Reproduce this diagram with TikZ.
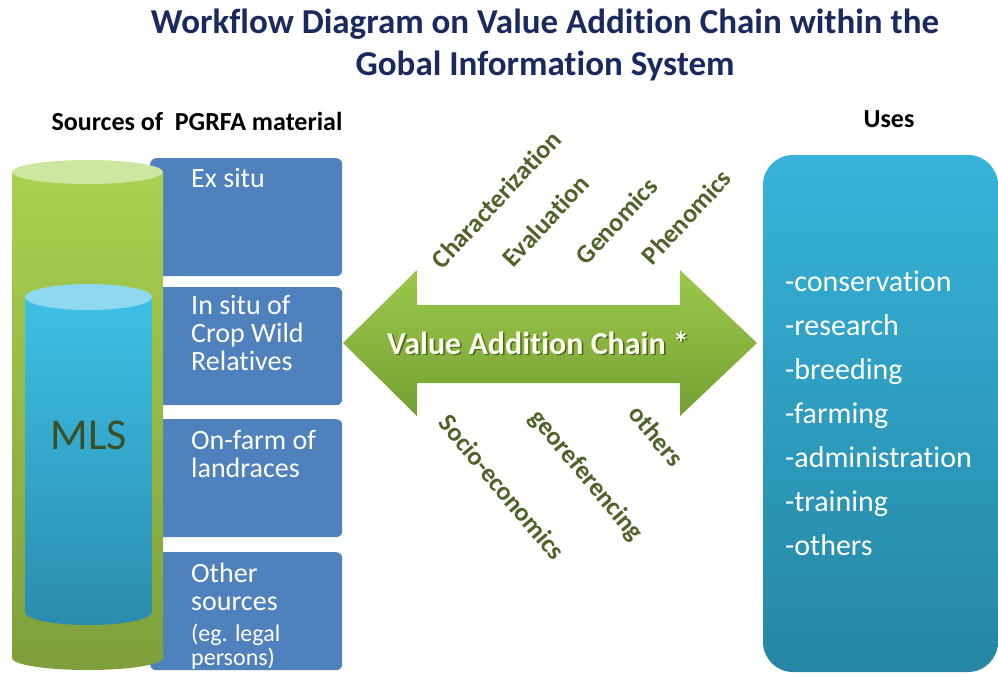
\documentclass[tikz,border=0pt]{standalone}
\usepackage{fontspec}
\setmainfont{Carlito}[Ligatures = NoCommon]
\usetikzlibrary{positioning}
\definecolor{titlenavy}{HTML}{1A2A5E}
\definecolor{srcblue}{HTML}{4F81BD}
\definecolor{cylgreentop}{HTML}{A9D150}
\definecolor{cylgreenbot}{HTML}{7E9F3C}
\definecolor{cylgreenlid}{HTML}{CFE6A0}
\definecolor{mlstop}{HTML}{3EC0E6}
\definecolor{mlsbot}{HTML}{2B8CAD}
\definecolor{mlslid}{HTML}{8ED9F0}
\definecolor{mlstext}{HTML}{3B4F26}
\definecolor{arrowtop}{HTML}{9DC84C}
\definecolor{arrowbot}{HTML}{74A033}
\definecolor{stepgreen}{HTML}{4F6228}
\definecolor{usestop}{HTML}{36B3DA}
\definecolor{usesbot}{HTML}{2686A3}
\tikzset{
  srcbox/.style = {fill = srcblue, rounded corners = 6pt, anchor = north west,
                   minimum width = 192pt, minimum height = 118pt, inner sep = 0pt},
  srctext/.style = {text = white, align = left, anchor = base west, inner sep = 0pt,
                    font = \fontsize{28}{28}\selectfont},
  steplabel/.style = {text = stepgreen, inner sep = 0pt,
                      font = \fontsize{26}{26}\selectfont\bfseries},
  useitem/.style = {text = white, anchor = base west, inner sep = 0pt,
                    font = \fontsize{30}{30}\selectfont},
  heading/.style = {inner sep = 0pt, font = \fontsize{26}{26}\selectfont\bfseries}
}
\begin{document}
\begin{tikzpicture}[x = 1pt, y = -1pt]
    \useasboundingbox (0,0) rectangle (998,675);
    % title
    \begin{scope}[every node/.append style = {text = titlenavy, inner sep = 0pt,
                  font = \fontsize{35}{35}\selectfont\bfseries}]
        \node (title1) at (545,24) {Workflow Diagram on Value Addition Chain within the};
        \node (title2) at (545,66) {Gobal Information System};
    \end{scope}
    \node[heading] (sources) at (197,121) {Sources of\ \ PGRFA material};
    \node[heading] (uses) at (889,119) {Uses};
    % source boxes
    \node[srcbox] (exsitu) at (150,158) {};
    \node[srcbox] (insitu) at (150,287) {};
    \node[srcbox] (onfarm) at (150,419) {};
    \node[srcbox] (other) at (150,552) {};
    \node[srctext] (exsitutext) at (191,187) {Ex situ};
    \node[srctext] (insitutext) at (191,370) {In situ of\\Crop Wild\\Relatives};
    \node[srctext] (onfarmtext) at (191,477) {On-farm of\\landraces};
    \node[srctext] (othertext) at (191,610) {Other\\sources};
    \node[srctext, font = \fontsize{24}{24}\selectfont] (legaltext) at (191,665) {(eg. legal\\persons)};
    % green cylinder
    \shade[top color = cylgreentop, bottom color = cylgreenbot]
        (12,172) -- (12,658) arc[start angle = 180, end angle = 0, x radius = 75.5, y radius = 12]
        -- (163,172) -- cycle;
    \fill[cylgreenlid] (87.5,172) ellipse[x radius = 75.5, y radius = 12];
    % blue cylinder
    \shade[top color = mlstop, bottom color = mlsbot]
        (25,297) -- (25,612) arc[start angle = 180, end angle = 0, x radius = 63.5, y radius = 13]
        -- (152,297) -- cycle;
    \fill[mlslid] (88.5,297) ellipse[x radius = 63.5, y radius = 13];
    \node[text = mlstext, font = \fontsize{44}{44}\selectfont] (mls) at (89,435) {MLS};
    % value addition arrow
    \shade[top color = arrowtop, bottom color = arrowbot]
        (343,343) -- (417,270) -- (417,305) -- (680,305) -- (680,270) -- (757,343)
        -- (680,416) -- (680,383) -- (417,383) -- (417,416) -- cycle;
    \begin{scope}[every node/.append style = {font = \fontsize{32}{32}\selectfont\bfseries}]
        \node[text = arrowbot!60!black] (chainshadow) at (539.5,344.5) {Value Addition Chain *};
        \node[text = yellow!8] (chain) at (538,343) {Value Addition Chain *};
    \end{scope}
    \node[steplabel, rotate = 47, anchor = west] (charact) at (436,264) {Characterization};
    \node[steplabel, rotate = 47, anchor = west] (evaluation) at (507,262) {Evaluation};
    \node[steplabel, rotate = 47, anchor = west] (genomics) at (580,260) {Genomics};
    \node[steplabel, rotate = 47, anchor = west] (phenomics) at (646,260) {Phenomics};
    \node[steplabel, rotate = -50, anchor = west] (socio) at (444,418) {Socio-economics};
    \node[steplabel, rotate = -50, anchor = west] (georef) at (534,414) {georeferencing};
    \node[steplabel, rotate = -50, anchor = west] (others) at (634,409) {others};
    % uses box
    \shade[top color = usestop, bottom color = usesbot, rounded corners = 30pt]
        (763,155) rectangle (998,672);
    \foreach \name/\usetext [count = \i from 0] in {conserv/conservation, research/research,
        breeding/breeding, farming/farming, admin/administration, training/training, othuse/others}
        \node[useitem] (\name) at (785,291+44*\i) {-\usetext};
\end{tikzpicture}
\end{document}
